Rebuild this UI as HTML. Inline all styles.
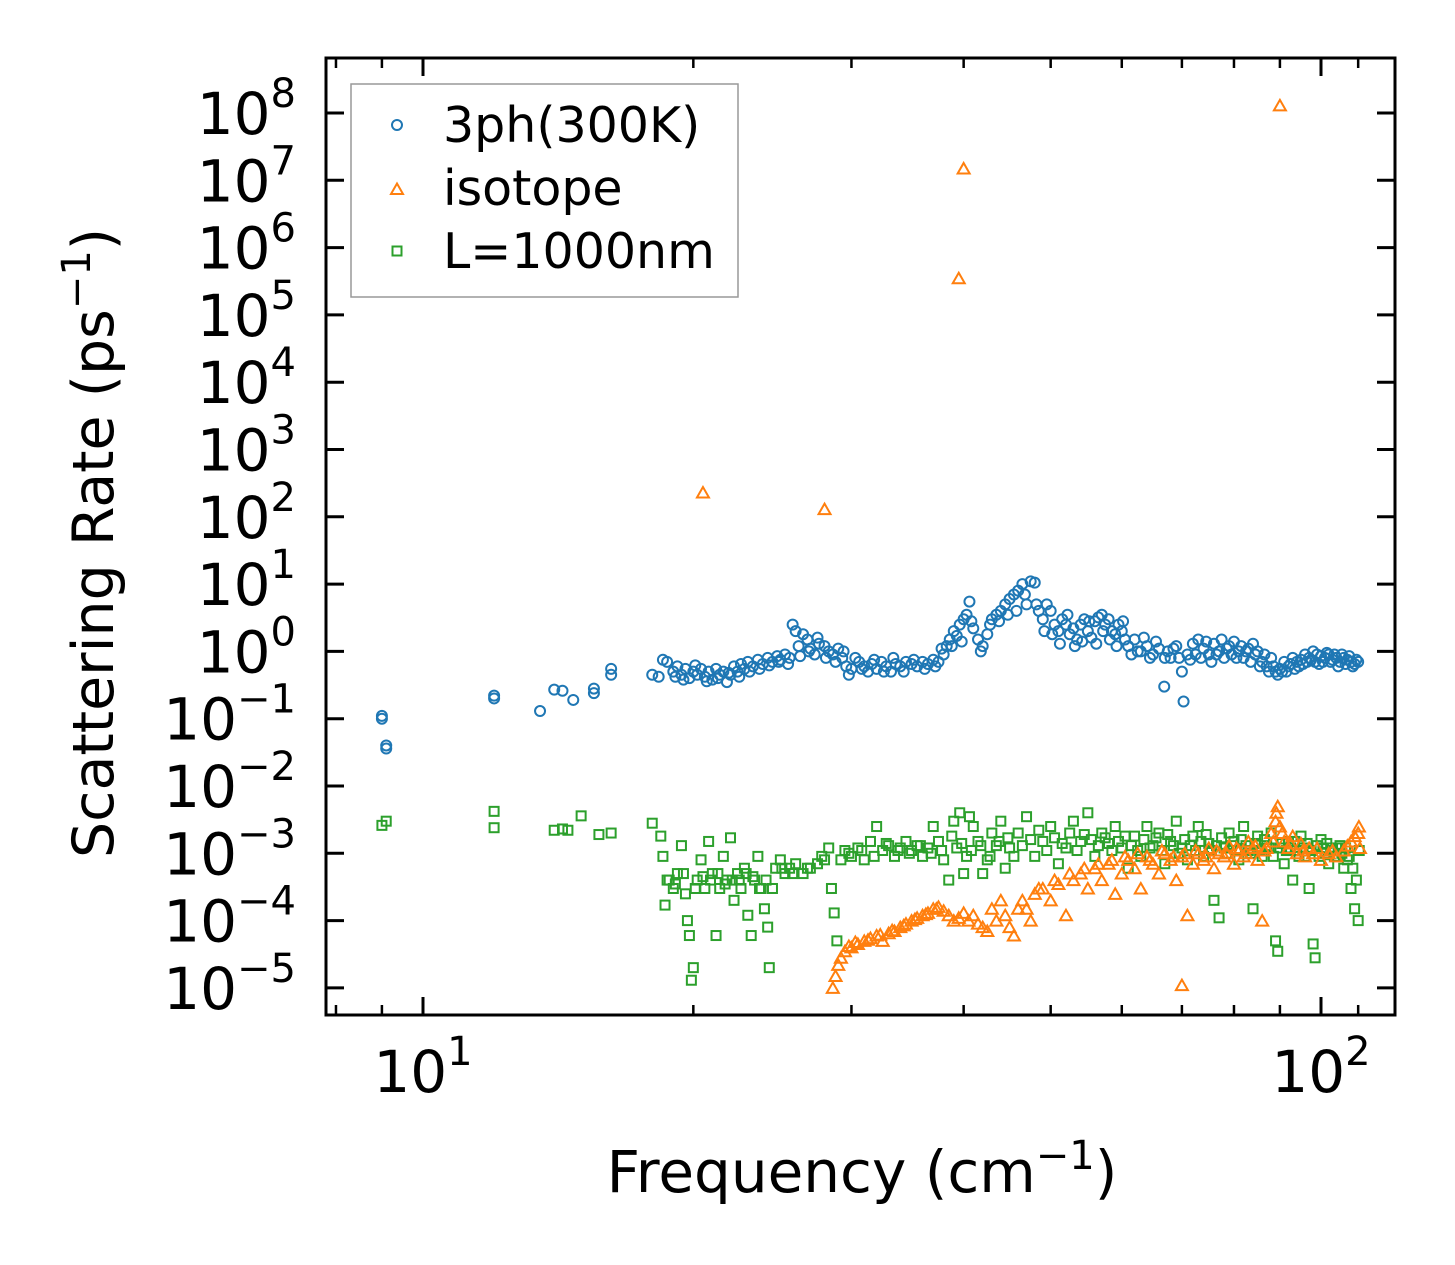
<!DOCTYPE html>
<html><head><meta charset="utf-8">
<style>
html,body{margin:0;padding:0;background:#fff;}
svg{display:block;font-family:"DejaVu Sans","Liberation Sans",sans-serif;}
</style></head>
<body>
<svg id="chart" width="1455" height="1265" viewBox="0 0 1455 1265" xmlns="http://www.w3.org/2000/svg">
<rect width="1455" height="1265" fill="#fff"/>
<g id="marks"></g>
<g id="axes"></g>
<text transform="translate(113,543) rotate(-90)" text-anchor="middle" font-size="57">Scattering Rate (ps<tspan font-size="40" dy="-23">−1</tspan><tspan dy="23">)</tspan></text>
<text x="862" y="1192" text-anchor="middle" font-size="58">Frequency (cm<tspan font-size="40" dy="-23">−1</tspan><tspan dy="23">)</tspan></text>
<g>
<rect x="351" y="84" width="387" height="213" fill="#fff" stroke="#999" stroke-width="1.5"/>
<g>
<circle cx="397" cy="125" r="5" fill="none" stroke="#1f77b4" stroke-width="2"/>
<text x="443" y="142" font-size="49">3ph(300K)</text></g>
<g>
<polygon points="397,183.5 403,194 391,194" fill="none" stroke="#ff7f0e" stroke-width="2"/>
<text x="443" y="205" font-size="49">isotope</text></g>
<g>
<rect x="392.5" y="246.5" width="9" height="9" fill="none" stroke="#2ca02c" stroke-width="2"/>
<text x="443" y="268" font-size="49">L=1000nm</text></g>
</g>
</svg>
<script>
const blueData = [[9,.11],[9,.1],[9.1,.04],[9.1,.036],[12,.2],[12,.22],[13.5,.13],[14,.27],[14.3,.26],[14.7,.19],[15.5,.24],[15.5,.28],[16.2,.45],[16.2,.55],
[18,.45],[18.3,.42],[18.5,.75],[18.7,.7],[19,.5],[19.2,.6],[19.4,.45],[19.6,.55],[19.8,.4],[20,.5],[20.2,.45],[20.4,.55],[20.6,.42],[20.8,.5],[21,.38],[21.2,.55],[21.4,.45],[21.6,.5],[21.8,.35],[22,.45],[22.2,.6],[22.4,.5],[22.6,.65],[22.8,.55],[23,.7],[23.3,.6],[23.6,.75],[23.9,.65],[24.2,.8],[24.5,.7],[24.8,.85],[25,.75],[25.3,.9],[25.6,.8],[25.8,2.5],[26,2],[26.2,1.2],[26.5,1.8],[26.8,1.5],[27,1.1],[27.3,.9],[27.6,1.3],[28,1.2],[28.3,1],[28.6,.9],[29,1.1],[29.3,.8],[29.6,.6],[29.8,.45],[30,.55],[30.3,.8],[30.6,.7],[31,.6],[31.3,.5],[31.6,.65],[32,.55],[32.4,.7],[32.8,.6],[33.2,.5],[33.6,.65],[34,.6],[34.5,.7],[35,.65],[35.5,.6],[36,.7],[36.5,.65],[37,.75],[37.5,.7],[38,.9],[38.3,1.2],[38.6,1.5],[39,2],[39.3,1.7],[39.6,2.5],[40,3],[40.3,3.5],[40.6,5.5],[41,2.2],[41.5,1.5],[42,1.2],[42.5,1.8],[43,3],[43.5,3.5],[44,4],[44.5,5],[45,6],[45.5,7],[46,8],[46.5,10],[47,5],[47.5,11],[48,10.5],[48.5,4],[49,3],[49.5,5],[50,4],[50.5,2.5],[51,2],[51.5,3],[52,2.5],[52.5,1.8],[53,2.2],[53.5,1.5],[54,2.5],[54.5,3],[55,2],[55.5,1.6],[56,2.8],[56.5,3.2],[57,3.5],[57.5,2.5],[58,3],[58.5,2],[59,1.8],[59.5,2.5],[60,2],[60.5,1.5],[61,1.2],[62,1.5],[63,1],[64,1.2],[65,.9],[66,1.1],[66.9,.3],[67.5,1],[68,.8],[69,1.2],[70,.5],[70.3,.18],[71,.9],[72,1.3],[73,1.5],[74,1.1],[75,.9],[76,1.3],[77,1],[78,.8],[79,1.2],[80,1.4],[81,1],[82,.8],[83,1.1],[84,1.3],[85,1],[86,.7],[87,.6],[88,.8],[89,.5],[90,.55],[91,.7],[92,.6],[93,.8],[94,.7],[95,.75],[96,.9],[97,.8],[98,1],[99,.9],[100,.85],[101,.8],[102,.9],[103,.75],[104,.8],[105,.7],[106,.8],[107,.75],[108,.7],[109,.65],[110,.7],
[19.1,.42],[19.5,.38],[20.1,.62],[20.7,.36],[21.3,.4],[21.9,.48],[22.5,.42],[23.1,.5],[23.7,.55],[24.3,.62],[24.9,.7],[25.5,.65],[26.3,.85],[26.9,1],[27.5,1.6],[28.1,.8],[28.8,.7],[29.4,1],[30.8,.55],[31.8,.75],[32.6,.5],[33.4,.8],[34.3,.5],[35.2,.75],[36.2,.55],[37.2,.6],[37.8,1.1],[38.8,1.2],[39.8,1.4],[40.8,2.8],[41.8,1],[42.8,2.5],[43.8,2.8],[44.8,3.5],[45.8,4],[46.8,7],[48.2,5],[49.2,2],[50.2,1.8],[51.2,1.3],[52.2,3.5],[53.2,1.2],[54.2,1.4],[55.2,2.8],[56.2,1.3],[57.2,2],[58.2,1.5],[59.2,1.2],[60.2,2.8],[61.5,.9],[62.5,1],[63.5,1.6],[64.5,.8],[65.5,1.4],[67,.8],[68.5,1.1],[69.5,.8],[71.5,.75],[72.5,.9],[73.5,.8],[74.5,1.4],[75.5,.7],[76.5,.9],[77.5,1.5],[78.5,1.1],[79.5,.9],[80.5,.8],[81.5,1.2],[82.5,1],[83.5,.7],[84.5,.9],[85.5,.6],[86.5,.9],[87.5,.5],[88.5,.6],[89.5,.45],[90.5,.5],[91.5,.5],[92.5,.65],[93.5,.55],[94.5,.6],[95.5,.65],[96.5,.7],[97.5,.75],[98.5,.7],[99.5,.65],[100.5,.7],[101.5,.95],[102.5,.7],[103.5,.9],[104.5,.6],[105.5,.9],[106.5,.65],[107.5,.85],[108.5,.6],[109.5,.75]];
const greenData = [[9,.0026],[9.1,.003],[12,.0042],[12,.0024],[14,.0022],[14.3,.0023],[14.5,.0022],[15,.0036],[15.7,.0019],[16.2,.002],[18,.0028],[18.4,.0018],[18.5,.0009],[18.6,.00017],[18.8,.0004],[19,.0003],[19.2,.0005],[19.4,.0013],[19.6,.00025],[19.7,.0001],[19.8,.00006],[19.9,.000013],[20,.00002],[20.2,.0004],[20.4,.0008],[20.6,.0003],[20.8,.0015],[21,.0005],[21.2,.00006],[21.4,.0003],[21.6,.0009],[21.8,.0004],[22,.0017],[22.2,.0002],[22.4,.0005],[22.6,.0003],[22.8,.0006],[23,.00012],[23.2,.00006],[23.4,.0004],[23.6,.0009],[23.8,.0003],[24,.00015],[24.2,.00008],[24.3,.00002],[24.5,.0003],[24.7,.0006],[25,.0008],[25.3,.0005],[25.6,.0006],[26,.0007],[26.5,.0005],[27,.0006],[27.5,.0007],[28,.0008],[28.3,.0012],[28.5,.0003],[28.7,.00013],[28.9,.00005],[29.2,.0008],[29.5,.0011],[30,.0009],[30.5,.0012],[31,.0008],[31.5,.0015],[32,.0025],[32.5,.0011],[33,.0013],[33.5,.0009],[34,.0012],[34.5,.0015],[35,.0011],[35.5,.0013],[36,.0009],[36.5,.0012],[37,.0025],[37.5,.0015],[38,.0008],[38.5,.0004],[39,.003],[39.3,.0012],[39.6,.004],[40,.0005],[40.3,.0009],[40.6,.0035],[41,.0025],[41.5,.0015],[42,.0005],[42.5,.0008],[43,.002],[43.5,.0013],[44,.003],[44.5,.0006],[45,.0012],[46,.002],[47,.0035],[48,.0009],[49,.0015],[50,.0025],[51,.0007],[52,.0012],[53,.003],[54,.0015],[55,.004],[56,.0009],[57,.002],[58,.0014],[59,.0025],[60,.0012],[61,.0006],[62,.0018],[63,.0009],[64,.0025],[65,.0013],[66,.002],[67,.0007],[68,.0015],[69,.003],[70,.0012],[71,.0008],[72,.0018],[73,.0025],[74,.0009],[75,.0014],[76,.0002],[77,.00011],[78,.0012],[79,.002],[80,.0015],[81,.0008],[82,.0025],[83,.0011],[84,.00015],[85,.0018],[86,.0009],[87,.0013],[88,.002],[89,.00005],[89.5,.000035],[90,.0012],[91,.0007],[92,.0015],[93,.0004],[94,.0011],[95,.0018],[96,.0009],[97,.0003],[98,.000045],[98.5,.000028],[99,.0013],[100,.0016],[101,.001],[102,.0007],[103,.0012],[104,.0009],[105,.0013],[106,.0006],[107,.0008],[108,.0003],[109,.00015],[110,.0001],[110.3,.0011],
[18.7,.0004],[19.1,.00035],[19.5,.0005],[20.1,.0003],[20.5,.00045],[20.9,.0004],[21.3,.0005],[21.7,.00035],[22.1,.0004],[22.5,.0004],[22.9,.0005],[23.3,.00045],[23.7,.0003],[24.1,.0004],[25.1,.0006],[25.8,.0005],[26.8,.0006],[27.8,.0009],[29.8,.001],[30.8,.0011],[31.8,.0009],[32.8,.0014],[33.8,.0011],[34.8,.001],[35.8,.0013],[36.8,.001],[37.8,.0011],[38.8,.0018],[39.8,.0014],[40.8,.0011],[41.8,.0013],[42.8,.0009],[43.8,.0015],[44.8,.0017],[45.5,.0009],[46.5,.0013],[47.5,.0016],[48.5,.0022],[49.5,.0011],[50.5,.0017],[51.5,.0014],[52.5,.002],[53.5,.0011],[54.5,.0019],[55.5,.0016],[56.5,.0013],[57.5,.0017],[58.5,.0011],[59.5,.0015],[60.5,.0018],[61.5,.0013],[62.5,.0011],[63.5,.0016],[64.5,.0012],[65.5,.0017],[66.5,.0011],[67.5,.0019],[68.5,.0013],[69.5,.001],[70.5,.0016],[71.5,.0013],[72.5,.0011],[73.5,.0015],[74.5,.0019],[75.5,.0011],[76.5,.0013],[77.5,.0017],[78.5,.001],[79.5,.0013],[80.5,.0011],[81.5,.0016],[82.5,.0013],[83.5,.001],[84.5,.0014],[85.5,.0011],[86.5,.0016],[87.5,.0012],[88.5,.0009],[90.5,.0014],[91.5,.0011],[92.5,.0012],[93.5,.0015],[94.5,.0009],[95.5,.0012],[96.5,.0014],[97.5,.0011],[99.5,.0009],[100.5,.0012],[101.5,.0014],[102.5,.0011],[103.5,.0009],[104.5,.0012],[105.5,.001],[106.5,.0012],[107.5,.0009],[108.5,.0006],[109.5,.0004]];
const orangeData = [[20.5,230],[28,130],[39.5,3.5e5],[40,1.5e7],[90,1.3e8],[70,1.1e-5],[28.6,1e-5],[28.8,1.5e-5],[29,2.2e-5],[29.2,2.8e-5],[29.5,3.5e-5],[30,4e-5],[30.5,4.5e-5],[31,5e-5],[31.5,5.5e-5],[32,6e-5],[32.5,5e-5],[33,6.5e-5],[33.5,7e-5],[34,8e-5],[34.5,9e-5],[35,1e-4],[35.5,1.1e-4],[36,1.2e-4],[36.5,1.3e-4],[37,1.5e-4],[37.5,1.6e-4],[38,1.4e-4],[38.5,1.2e-4],[39,1e-4],[39.5,1.1e-4],[40,1.3e-4],[40.5,1e-4],[41,1.2e-4],[41.5,9e-5],[42,8e-5],[42.5,7e-5],[43,1.5e-4],[43.5,1e-4],[44,2e-4],[44.5,1.2e-4],[45,8e-5],[45.5,6e-5],[46,1.5e-4],[46.5,2e-4],[47,1.5e-4],[47.5,1e-4],[48,2.5e-4],[49,3e-4],[50,2e-4],[51,3.5e-4],[52,1.2e-4],[53,4e-4],[54,5e-4],[55,3e-4],[56,6e-4],[57,4e-4],[58,7e-4],[59,2.5e-4],[60,5e-4],[61,8e-4],[62,6e-4],[63,3e-4],[64,9e-4],[65,7e-4],[66,5e-4],[67,1e-3],[68,8e-4],[69,4e-4],[70,9e-4],[71,1.2e-4],[72,7e-4],[73,1e-3],[74,8e-4],[75,1.2e-3],[76,6e-4],[77,1e-3],[78,9e-4],[79,1.3e-3],[80,7e-4],[81,1.1e-3],[82,9e-4],[83,1.5e-3],[84,1.2e-3],[85,8e-4],[86,1e-4],[87,1.2e-3],[88,2e-3],[89,3e-3],[89.5,5e-3],[90,2.5e-3],[91,1.5e-3],[92,1.2e-3],[93,1.8e-3],[94,1e-3],[95,1.4e-3],[96,9e-4],[97,1.2e-3],[98,1e-3],[100,8e-4],[102,1e-3],[104,9e-4],[106,1.1e-3],[108,1.5e-3],[110,2e-3],[110.5,1.2e-3],
[29.8,4.2e-5],[30.3,4.8e-5],[31.3,5.2e-5],[32.3,6.2e-5],[33.3,7.2e-5],[34.3,8.5e-5],[35.3,1.05e-4],[36.3,1.25e-4],[37.3,1.5e-4],[48.5,3e-4],[50.5,4e-4],[52.5,5e-4],[54.5,6e-4],[56.5,7e-4],[58.5,8e-4],[60.5,9e-4],[62.5,1e-3],[64.5,8e-4],[66.5,1.1e-3],[68.5,9e-4],[70.5,1e-3],[72.5,1.1e-3],[74.5,9e-4],[76.5,1.1e-3],[78.5,1e-3],[80.5,1.2e-3],[82.5,1e-3],[84.5,1.3e-3],[86.5,1.1e-3],[88.5,1.5e-3],[89.2,4e-3],[90.5,2e-3],[92.5,1.4e-3],[95.5,1.1e-3],[99,1.2e-3],[103,1.1e-3],[107,1.3e-3],[109,1.8e-3],[110.2,2.5e-3]];
const yTickExps = [8,7,6,5,4,3,2,1,0,-1,-2,-3,-4,-5];
const xTickExps = [1,2];
const xMinorVals = [8,9,20,30,40,50,60,70,80,90,110];

const NS = "http://www.w3.org/2000/svg";
const L = 326, R = 1395, T = 58, B = 1015;
function xs(f){ return 423 + 898 * (Math.log10(f) - 1); }
function ys(v){ return 113 + 67.3 * (8 - Math.log10(v)); }
function mk(tag, attrs, parent){ const e = document.createElementNS(NS, tag); for (const k in attrs) e.setAttribute(k, attrs[k]); parent.appendChild(e); return e; }

const marks = document.getElementById('marks');
const gB = mk('g', {}, marks);


blueData.forEach(d => {
  const c = mk('circle', {cx: xs(d[0]), cy: ys(d[1]), r: 5, fill: 'none', stroke: '#1f77b4', 'stroke-width': 2}, gB);
  
  
});
const gG = mk('g', {}, marks);


greenData.forEach(d => {
  const x = xs(d[0]), y = ys(d[1]);
  const r = mk('rect', {x: x - 4.5, y: y - 4.5, width: 9, height: 9, fill: 'none', stroke: '#2ca02c', 'stroke-width': 2}, gG);
  
  
});
const gO = mk('g', {}, marks);


orangeData.forEach(d => {
  const x = xs(d[0]), y = ys(d[1]);
  const p = mk('polygon', {points: `${x},${y-5.5} ${x+6},${y+5} ${x-6},${y+5}`, fill: 'none', stroke: '#ff7f0e', 'stroke-width': 2}, gO);
  
  
});

const axes = document.getElementById('axes');
const frame = mk('rect', {x: L, y: T, width: R - L, height: B - T, fill: 'none', stroke: '#000', 'stroke-width': 3}, axes);


yTickExps.forEach(e => {
  const y = ys(Math.pow(10, e));
  mk('line', {x1: L, x2: L + 18, y1: y, y2: y, stroke: '#000', 'stroke-width': 3}, axes);
  mk('line', {x1: R, x2: R - 18, y1: y, y2: y, stroke: '#000', 'stroke-width': 3}, axes);
  const t = mk('text', {x: 296, y: y + 21, 'text-anchor': 'end', 'font-size': 58}, axes);
  
  
  const s1 = document.createElementNS(NS, 'tspan'); s1.textContent = '10'; t.appendChild(s1);
  const s2 = document.createElementNS(NS, 'tspan'); s2.setAttribute('font-size', 40); s2.setAttribute('dy', -27); s2.textContent = e < 0 ? '−' + (-e) : String(e); t.appendChild(s2);
});
xTickExps.forEach(e => {
  const x = xs(Math.pow(10, e));
  mk('line', {x1: x, x2: x, y1: B, y2: B - 18, stroke: '#000', 'stroke-width': 3}, axes);
  mk('line', {x1: x, x2: x, y1: T, y2: T + 18, stroke: '#000', 'stroke-width': 3}, axes);
  const t = mk('text', {x: x, y: 1092, 'text-anchor': 'middle', 'font-size': 58}, axes);
  
  
  const s1 = document.createElementNS(NS, 'tspan'); s1.textContent = '10'; t.appendChild(s1);
  const s2 = document.createElementNS(NS, 'tspan'); s2.setAttribute('font-size', 40); s2.setAttribute('dy', -27); s2.textContent = String(e); t.appendChild(s2);
});
xMinorVals.forEach(v => {
  const x = xs(v);
  mk('line', {x1: x, x2: x, y1: B, y2: B - 10, stroke: '#000', 'stroke-width': 2.5}, axes);
  mk('line', {x1: x, x2: x, y1: T, y2: T + 10, stroke: '#000', 'stroke-width': 2.5}, axes);
});
</script>
</body></html>
